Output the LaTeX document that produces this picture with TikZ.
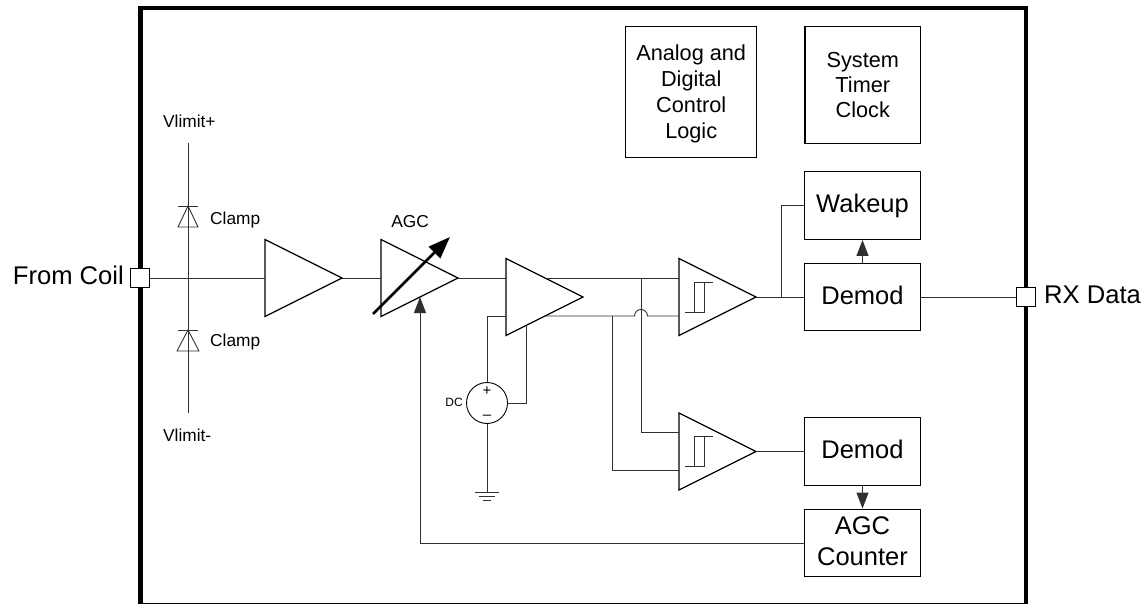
\documentclass[tikz,border=0pt]{standalone}
\usepackage{fontspec}
\setmainfont{Liberation Sans}
\usetikzlibrary{arrows.meta, positioning, calc, shapes.geometric}
\definecolor{wiregray}{HTML}{303030}

\begin{document}
\begin{tikzpicture}[
    x=1pt, y=-1pt,
    wire/.style={draw=wiregray, line width=0.9pt},
    feed/.style={wire, -{Triangle[length=16pt, width=12pt]}},
    block/.style={draw, line width=1.4pt, minimum width=115.5pt, minimum height=67.5pt, inner sep=0pt, align=center, font=\fontsize{25.5}{31}\selectfont},
    amp/.style={draw, line width=1.3pt, isosceles triangle, isosceles triangle apex angle=53.13, isosceles triangle stretches, minimum height=77pt, minimum width=77pt, inner sep=0pt, outer sep=0pt, anchor=apex},
    port/.style={draw, fill=white, line width=1.3pt, minimum size=19.5pt, inner sep=0pt},
    lbl/.style={font=\fontsize{17.3}{20}\selectfont, inner sep=0pt},
    plain/.style={font=\fontsize{25.6}{28}\selectfont, inner sep=0pt},
]
\useasboundingbox (0,0) rectangle (1146,604);

% Chip outline
\draw[line width=4.6pt] (140.5,8) rectangle (1026,605.5);

% Control blocks
\node[block, minimum width=131pt, minimum height=131pt, text depth=2pt, font=\fontsize{21.7}{26}\selectfont] (logic) at (691.2,92.2) {Analog and\\Digital\\Control\\Logic};
\node[block, minimum height=116.6pt, font=\fontsize{21.7}{25.4}\selectfont] (timer) at (862.8,85) {System\\Timer\\Clock};

% Signal chain
\node[amp] (amp1) at (342,278) {};
\node[amp] (agc) at (458,278) {};
\node[amp] (amp2) at (583,297) {};
\node[amp] (comp1) at (756,297) {};
\node[amp] (comp2) at (756,451.5) {};

\node[block] (wakeup) at (862.5,205.5) {Wakeup};
\node[block, text depth=4pt] (demod1) at (862.5,297) {Demod};
\node[block, text depth=4pt] (demod2) at (862.5,451.5) {Demod};
\node[block, text depth=3pt] (counter) at (862.5,543) {AGC\\Counter};

% Ports
\node[port] (coil) at (140,278) {};
\node[port] (rx) at (1026,297) {};
\node[plain, anchor=base east] (coillabel) at (124,284.5) {From Coil};
\node[plain, anchor=base west] (rxlabel) at (1044,303.5) {RX Data};

% Clamp rail
\coordinate (vtop) at (188,143);
\coordinate (vbot) at (188,413);
\draw[wire] (vtop) -- (vbot);
\draw[wire] (178,206) -- (198,206);
\draw[wire] (188,206) -- (178,227) -- (198,227) -- cycle;
\draw[wire] (178,330) -- (198,330);
\draw[wire] (188,330) -- (177,351) -- (199,351) -- cycle;
\node[lbl, anchor=base west] (vpos) at (163,128) {Vlimit+};
\node[lbl, anchor=base west] (vneg) at (163,441) {Vlimit-};
\node[lbl, anchor=base west] (clamp1) at (210,225) {Clamp};
\node[lbl, anchor=base west] (clamp2) at (210,346) {Clamp};

% Variable gain
\node[lbl, anchor=base] (agclabel) at (410,227.3) {AGC};
\coordinate (gainlow) at (373,314);
\coordinate (gainhigh) at (450,237);
\draw[line width=2.8pt, -{Triangle[length=22pt, width=16pt]}] (gainlow) -- (gainhigh);

% DC source
\node[draw, circle, line width=0.9pt, minimum size=41pt, inner sep=0pt] (dc) at (487,403) {};
\node[font=\fontsize{15}{15}\selectfont, inner sep=0pt] (dcplus) at (487,391) {+};
\node[font=\fontsize{15}{15}\selectfont, inner sep=0pt] (dcminus) at (487,417) {--};
\node[font=\fontsize{12}{12}\selectfont, inner sep=0pt, anchor=base east] (dclabel) at (463,406.7) {DC};
\coordinate (gnd) at (487,492);
\draw[wire] (dc) -- (gnd);
\draw[wire] ($(gnd)+(-12,0)$) -- ($(gnd)+(12,0)$);
\draw[wire] ($(gnd)+(-8,4)$) -- ($(gnd)+(8,4)$);
\draw[wire] ($(gnd)+(-4,8)$) -- ($(gnd)+(4,8)$);
\draw[wire] (dc.north) |- (506,316);
\draw[wire] (dc.east) -| (526,325);

% Main path
\draw[wire] (coil) -- (amp1.west);
\draw[wire] (amp1.apex) -- (agc.west);
\draw[wire] (agc.apex) -- (506,278);
\draw[wire] (comp1.apex) -- (demod1);
\draw[wire] (demod1) -- (rx);
\draw[wire] (781,297) |- (wakeup.west);
\draw[wire] (comp2.apex) -- (demod2.west);
\draw[feed] (demod1) -- (wakeup);
\draw[feed] (demod2) -- (counter);
\draw[feed] (counter.west) -| (420,297);

% Differential outputs
\draw[wire] (546,278) -- (679,278);
\draw[wire] (546,316) -- (634.5,316) arc (180:360:6.5) -- (679,316);
\draw[wire] (641,278) |- (679,432);
\draw[wire] (612,316) |- (679,470);

% Hysteresis marks
\foreach \y in {297,451} {
  \draw[wire] (685,\y+15) -- (704,\y+15) -- (704,\y-15) -- (713,\y-15);
  \draw[wire] (694,\y+15) -- (694,\y-15) -- (704,\y-15);
}
\end{tikzpicture}
\end{document}
